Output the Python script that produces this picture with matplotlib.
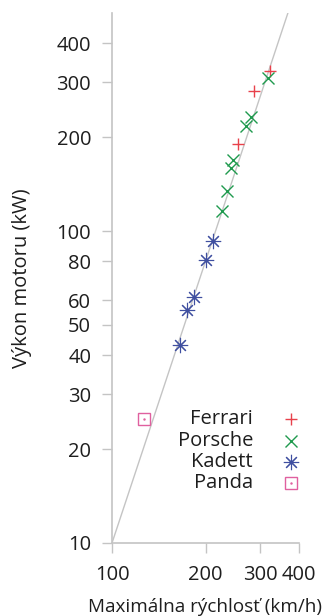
import matplotlib
matplotlib.use('Agg')
import matplotlib.pyplot as plt
import numpy as np

plt.rcParams['font.family'] = ['Open Sans', 'DejaVu Sans']

# data (max speed km/h, engine power kW)
ferrari_speed = [323, 286, 255]
ferrari_power = [327, 282, 190]
porsche_speed = [317, 281, 271, 246, 241, 235, 226]
porsche_power = [310, 232, 217, 169, 159, 134, 116]
kadett_speed = [211, 200, 183, 175, 165]
kadett_power = [93, 81, 61.5, 56, 43]
panda_speed = [127]
panda_power = [25]

series_names = ['Ferrari', 'Porsche', 'Kadett', 'Panda']
x_ticks = [100, 200, 300, 400]
y_ticks = [10, 20, 30, 40, 50, 60, 80, 100, 200, 300, 400]

# reference line P = 10 kW * (v / 100 km/h)^3
ref_power0 = 10
ref_speed0 = 100
ref_exp = 3

grid_col = '#c4c4c4'
txt_col = '#1e1e1e'
colors = ['#e8414b', '#1f9a4e', '#3f4fa0', '#e0609f']
markers = ['+', 'x', (8, 2, 0), 's']
fs = 14.5


def draw_marker(x, y, c, m, **kw):
    if m == 's':
        ax.plot(x, y, ls='none', marker='s', ms=8, mfc='none', mec=c, mew=1, zorder=3, **kw)
        ax.plot(x, y, ls='none', marker='.', ms=1.5, color=c, zorder=3, **kw)
    elif m == 'x' or m == '+':
        ax.plot(x, y, ls='none', marker=m, ms=9, color=c, mew=1, zorder=3, **kw)
    else:
        ax.plot(x, y, ls='none', marker=m, ms=11, color=c, mew=0.8, zorder=3, **kw)


fig = plt.figure(figsize=(3.27, 6.16), dpi=100)
ax = fig.add_axes([112 / 327, 73 / 616, 187 / 327, 530 / 616])
ax.set_xscale('log')
ax.set_yscale('log')

vv = np.geomspace(100, 400, 50)
ax.plot(vv, ref_power0 * (vv / ref_speed0) ** ref_exp, color=grid_col, lw=1, zorder=1)

data = [(ferrari_speed, ferrari_power), (porsche_speed, porsche_power),
        (kadett_speed, kadett_power), (panda_speed, panda_power)]
for (xs, ys), c, m in zip(data, colors, markers):
    draw_marker(xs, ys, c, m)

# legend, text right aligned and marker on the right
leg_y = [0.234, 0.1925, 0.153, 0.113]
for name, c, m, yy in zip(series_names, colors, markers, leg_y):
    ax.text(0.754, yy, name, transform=ax.transAxes, ha='right', va='center',
            fontsize=fs, color=txt_col)
    draw_marker([0.957], [yy], c, m, transform=ax.transAxes, clip_on=False)

ax.set_xlim(100, 400)
ax.set_ylim(10, 500)
ax.set_xticks(x_ticks)
ax.set_xticklabels([str(t) for t in x_ticks])
ax.set_yticks(y_ticks)
ax.set_yticklabels([str(t) for t in y_ticks])
ax.minorticks_off()

for s in ['top', 'right']:
    ax.spines[s].set_visible(False)
for s in ['left', 'bottom']:
    ax.spines[s].set_color(grid_col)
    ax.spines[s].set_linewidth(1.2)
ax.tick_params(length=7, width=1, color=grid_col, labelsize=fs, labelcolor=txt_col)
ax.tick_params(axis='x', pad=9)
ax.tick_params(axis='y', pad=8)

ax.set_xlabel('Maximálna rýchlosť (km/h)', fontsize=13.6, color=txt_col, labelpad=9)
ax.set_ylabel('Výkon motoru (kW)', fontsize=fs, color=txt_col, labelpad=18)

fig.savefig('out.png', dpi=100)
